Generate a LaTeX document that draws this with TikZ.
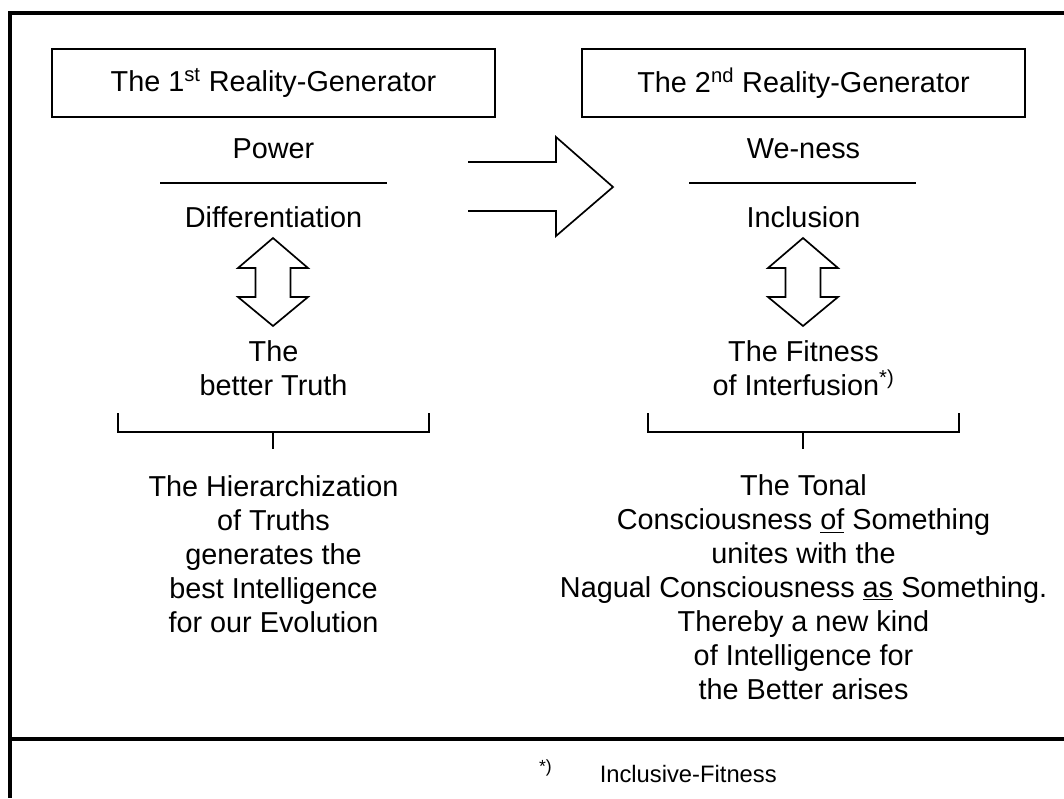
\documentclass[tikz,border=0pt]{standalone}
\usepackage{fontspec}
\setmainfont{Liberation Sans}
\usetikzlibrary{positioning}

\newcommand\bodyfont{\fontsize{20.5}{24.1}\selectfont}
\newcommand\footfont{\fontsize{16.9}{19}\selectfont}

\begin{document}
\begin{tikzpicture}[x=0.025cm, y=-0.025cm,
    frameline/.style={line width=2.8pt},
    thinline/.style={line width=1.2pt, line join=miter},
    genbox/.style={draw, thinline, minimum width=11.075cm, minimum height=1.7cm, inner sep=0pt, font=\bodyfont},
    txt/.style={align=center, inner sep=0pt, font=\bodyfont, anchor=base},
    dblarrow/.pic={
        \draw[thinline] (0,-44) -- (35,-14) -- (17.5,-14) -- (17.5,15) -- (35,15) -- (0,44)
            -- (-35,15) -- (-17.5,15) -- (-17.5,-14) -- (-35,-14) -- cycle;
    }]
    \useasboundingbox (0,0) rectangle (1064,798);

    % outer frame
    \draw[frameline] (1064,13) -- (10,13) -- (10,798);
    \draw[frameline] (10,739) -- (1064,739);

    % the two generators
    \node[genbox] (gen1) at (273.5,83) {The 1\textsuperscript{st} Reality-Generator};
    \node[genbox] (gen2) at (803.5,83) {The 2\textsuperscript{nd} Reality-Generator};

    \node[txt] (power) at (273.5,158) {Power};
    \node[txt] (diff) at (273.5,227) {Differentiation};
    \node[txt] (weness) at (803.5,158) {We-ness};
    \node[txt] (incl) at (803.5,227) {Inclusion};
    \draw[thinline] (160,183) -- (387,183);
    \draw[thinline] (689,183) -- (916,183);

    % big arrow between the columns
    \draw[thinline] (468,162) -- (556,162) -- (556,137) -- (613,187) -- (556,236) -- (556,211) -- (468,211);

    % double arrows and brackets
    \foreach \cx in {273,803} {
        \pic at (\cx,282) {dblarrow};
        \draw[thinline] (\cx-155,413) -- (\cx-155,432) -- (\cx+156,432) -- (\cx+156,413);
        \draw[thinline] (\cx,432) -- (\cx,449);
    }

    % anchor=base sits on the last line
    \node[txt] (truth) at (273.5,395) {The\\better Truth};
    \node[txt] (fitness) at (803.5,395) {The Fitness\\of Interfusion\textsuperscript{*)}};

    \node[txt] (hier) at (273.5,632) {The Hierarchization\\of Truths\\generates the\\best Intelligence\\for our Evolution};
    \node[txt] (tonal) at (803.5,699) {The Tonal\\Consciousness \underline{of} Something\\unites with the\\Nagual Consciousness \underline{as} Something.\\Thereby a new kind\\of Intelligence for\\the Better arises};

    % footnote
    \node[anchor=base east, inner sep=0pt, font=\footfont] (foot) at (777,782)
        {\raisebox{7pt}{\fontsize{12.5}{13}\selectfont *)}\hspace{1.2cm}Inclusive-Fitness};
\end{tikzpicture}
\end{document}
